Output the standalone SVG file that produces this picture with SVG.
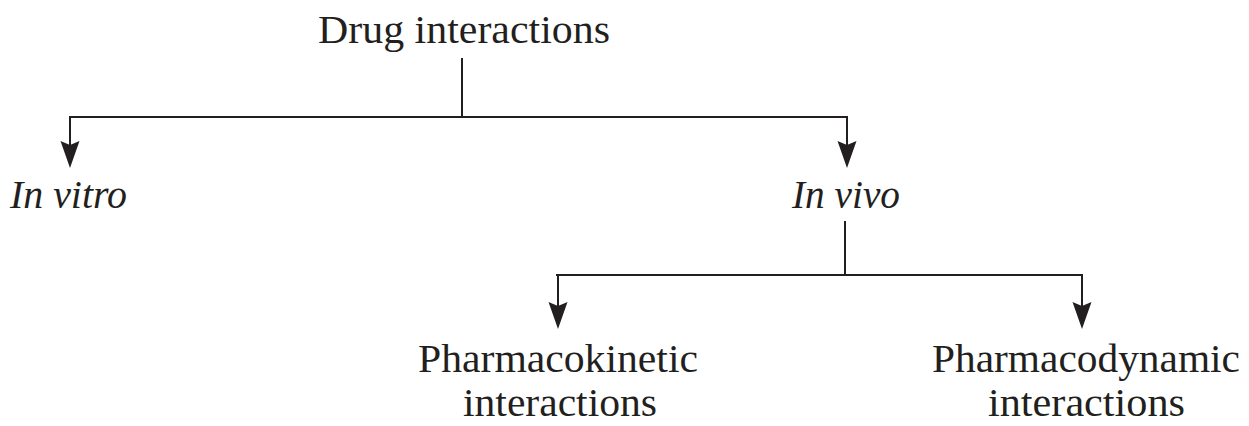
<svg xmlns="http://www.w3.org/2000/svg" width="1249" height="426" viewBox="0 0 1249 426">
  <style>
    .t { font-family: "Liberation Serif", "Times New Roman", serif; font-size: 40px; fill: #231f20; }
    .it { font-style: italic; }
    .c { stroke: #231f20; stroke-width: 2; fill: none; }
  </style>
  <defs>
    <marker id="arr" markerUnits="userSpaceOnUse" markerWidth="30" markerHeight="22" refX="19" refY="10" orient="auto">
      <path d="M0,0.5 L27,10 L0,19.5 L4,10 Z" fill="#231f20"/>
    </marker>
  </defs>
  <rect width="1249" height="426" fill="#ffffff"/>
  <g id="connectors">
    <line class="c" x1="462" y1="58" x2="462" y2="117"/>
    <line class="c" x1="69" y1="117" x2="848" y2="117"/>
    <line class="c" x1="70" y1="117" x2="70" y2="160" marker-end="url(#arr)"/>
    <line class="c" x1="847" y1="117" x2="847" y2="160" marker-end="url(#arr)"/>
    <line class="c" x1="845" y1="221" x2="845" y2="275"/>
    <line class="c" x1="556" y1="275" x2="1083" y2="275"/>
    <line class="c" x1="558" y1="275" x2="558" y2="321" marker-end="url(#arr)"/>
    <line class="c" x1="1082" y1="275" x2="1082" y2="321" marker-end="url(#arr)"/>
  </g>
  <g id="node-drug-interactions">
    <text class="t" x="318" y="43" font-size="41" textLength="292" lengthAdjust="spacingAndGlyphs">Drug interactions</text>
  </g>
  <g id="node-in-vitro">
    <text class="t it" x="10" y="208" font-size="41" textLength="117" lengthAdjust="spacingAndGlyphs">In vitro</text>
  </g>
  <g id="node-in-vivo">
    <text class="t it" x="792" y="208" font-size="41" textLength="108" lengthAdjust="spacingAndGlyphs">In vivo</text>
  </g>
  <g id="node-pharmacokinetic">
    <text class="t" x="418" y="372" textLength="280" lengthAdjust="spacingAndGlyphs">Pharmacokinetic</text>
    <text class="t" x="463" y="416" textLength="194" lengthAdjust="spacingAndGlyphs">interactions</text>
  </g>
  <g id="node-pharmacodynamic">
    <text class="t" x="932" y="372" textLength="308" lengthAdjust="spacingAndGlyphs">Pharmacodynamic</text>
    <text class="t" x="988" y="416" textLength="197" lengthAdjust="spacingAndGlyphs">interactions</text>
  </g>
</svg>
